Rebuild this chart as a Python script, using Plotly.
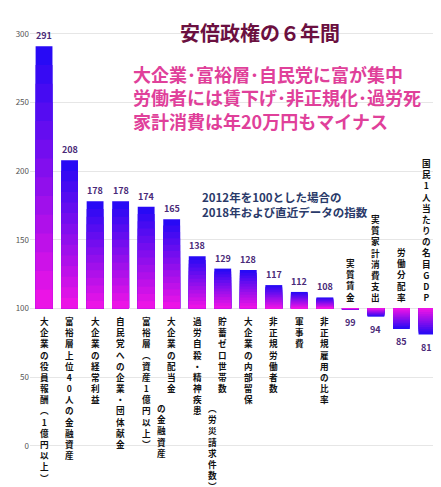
import plotly.graph_objects as go

labels = ["大企業の役員報酬︵1億円以上︶", "富裕層上位40人の金融資産", "大企業の経常利益",
          "自民党への企業・団体献金", "富裕層︵資産1億円以上︶", "大企業の配当金",
          "過労自殺・精神疾患", "貯蓄ゼロ世帯数", "大企業の内部留保", "非正規労働者数",
          "軍事費", "非正規雇用の比率", "実質賃金", "実質家計消費支出", "労働分配率",
          "国民1人当たりの名目GDP"]
extra = {4: "の金融資産", 6: "︵労災請求件数︶"}
values = [291, 208, 178, 178, 174, 165, 138, 129, 128, 117, 112, 108, 99, 94, 85, 81]
cats = list(range(len(values)))

FONT = "Noto Sans CJK JP"
fig = go.Figure()

# gradient bars: magenta at base -> blue at top
steps = 14
for k in range(steps):
    f = 1 - k / steps
    t = k / (steps - 1)  # 0 = outer (top, blue), 1 = near base (magenta)
    r = int(40 * (1 - t) + 235 * t)
    g = int(10 * (1 - t) + 20 * t)
    b = int(245 * (1 - t) + 230 * t)
    fig.add_trace(go.Bar(
        x=cats, y=[(v - 100) * f for v in values], base=100,
        marker=dict(color=f"rgb({r},{g},{b})", line_width=0),
        width=0.66, showlegend=False, hoverinfo="skip"))
fig.update_layout(barmode="overlay")

def vert(s):
    return "<br>".join("<b>%s</b>" % c for c in s)

LS = 8.6
ann = []
for i, (lab, v) in enumerate(zip(labels, values)):
    if v >= 100:
        ann.append(dict(x=i, y=v, text="<b>%d</b>" % v, yanchor="bottom", yshift=2,
                        showarrow=False, font=dict(size=9, color="#4a2a78")))
        ann.append(dict(x=i, y=100, text=vert(lab), yanchor="top", yshift=-5,
                        showarrow=False, font=dict(size=LS, color="#111")))
    else:
        ann.append(dict(x=i, y=v, text="<b>%d</b>" % v, yanchor="top", yshift=-4,
                        showarrow=False, font=dict(size=9, color="#4a2a78")))
        ann.append(dict(x=i, y=100, text=vert(lab), yanchor="bottom", yshift=3,
                        showarrow=False, font=dict(size=LS, color="#111")))
for i, s in extra.items():
    ann.append(dict(x=i, y=100, text=vert(s), yanchor="top", xshift=15,
                    yshift=-92, showarrow=False, font=dict(size=LS, color="#111")))

ann += [
    dict(x=0.56, y=1.0, xref="paper", yref="paper", text="<b>安倍政権の６年間</b>",
         showarrow=False, yanchor="top", font=dict(size=20, color="#6b1040")),
    dict(x=0.6, y=0.91, xref="paper", yref="paper",
         text="<b>大企業･富裕層･自民党に富が集中<br>労働者には賃下げ･非正規化･過労死<br>家計消費は年20万円もマイナス</b>",
         showarrow=False, yanchor="top", align="left",
         font=dict(size=18, color="#e0409a")),
    dict(x=0.62, y=0.64, xref="paper", yref="paper",
         text="<b>2012年を100とした場合の<br>2018年および直近データの指数</b>",
         showarrow=False, yanchor="top", align="left",
         font=dict(size=11.5, color="#2a3a6a")),
]

fig.update_layout(
    width=441, height=487, margin=dict(l=22, r=8, t=8, b=4),
    plot_bgcolor="white", paper_bgcolor="white", annotations=ann,
    font=dict(family=FONT),
    xaxis=dict(range=[-0.55, len(values) - 0.45], showticklabels=False,
               showgrid=False, zeroline=False),
    yaxis=dict(range=[-33, 313], tickvals=[0, 50, 100, 150, 200, 250, 300],
               tickfont=dict(size=8, color="#555"), gridcolor="#e6e6e6",
               zeroline=False),
)
fig.write_html("out.html")
